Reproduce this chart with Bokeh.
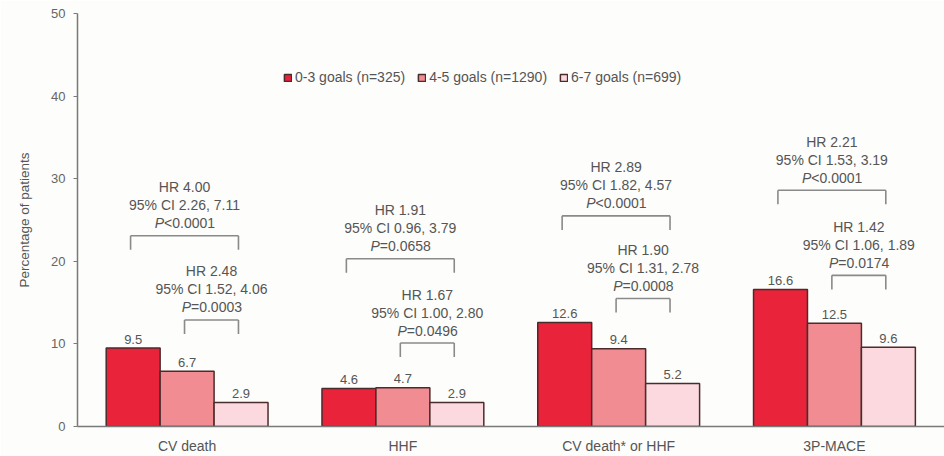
import numpy as np
from bokeh.plotting import figure
from bokeh.models import (ColumnDataSource, Range1d, FixedTicker, Legend, LegendItem)
from bokeh.core.properties import value
from bokeh.embed import file_html
from bokeh.resources import INLINE

# ---------------- data ----------------
categories = ["CV death", "HHF", "CV death* or HHF", "3P-MACE"]
series_names = ["0-3 goals (n=325)", "4-5 goals (n=1290)", "6-7 goals (n=699)"]
goals_0_3 = [9.5, 4.6, 12.6, 16.6]
goals_4_5 = [6.7, 4.7, 9.4, 12.5]
goals_6_7 = [2.9, 2.9, 5.2, 9.6]

# comparisons: 0-3 vs 6-7 (wide bracket) and 4-5 vs 6-7 (narrow bracket)
hr_wide = ["HR 4.00", "HR 1.91", "HR 2.89", "HR 2.21"]
ci_wide = ["95% CI 2.26, 7.11", "95% CI 0.96, 3.79", "95% CI 1.82, 4.57", "95% CI 1.53, 3.19"]
p_wide = ["<0.0001", "=0.0658", "<0.0001", "<0.0001"]
hr_narrow = ["HR 2.48", "HR 1.67", "HR 1.90", "HR 1.42"]
ci_narrow = ["95% CI 1.52, 4.06", "95% CI 1.00, 2.80", "95% CI 1.31, 2.78", "95% CI 1.06, 1.89"]
p_narrow = ["=0.0003", "=0.0496", "=0.0008", "=0.0174"]
# bracket heights (annotation levels, % axis units)
bracket_wide_level = [23.1, 20.3, 25.5, 28.6]
bracket_narrow_level = [12.9, 10.1, 15.5, 18.3]

y_ticks = [0, 10, 20, 30, 40, 50]

# ---------------- style ----------------
colors = ["#e8233a", "#f08c92", "#fbd9df"]
outline = "#4a2c2c"
txt_col = "#555555"
bracket_col = "#8a8a8a"
FONT = "Liberation Sans"
BG = "#fdfdfb"

bw = 0.25
offsets = [-bw, 0.0, bw]
centers = np.arange(len(categories)) + 0.5

p = figure(width=944, height=456, output_backend="svg", toolbar_location=None,
           x_range=Range1d(-0.008, 4.01), y_range=Range1d(0, 50),
           min_border_left=77, min_border_right=0, min_border_top=13, min_border_bottom=28,
           background_fill_color=BG, border_fill_color=BG, outline_line_color=None)
p.grid.visible = False

series = [goals_0_3, goals_4_5, goals_6_7]
renderers = []
for i, vals in enumerate(series):
    src = ColumnDataSource(dict(x=centers + offsets[i], top=vals,
                                lab=[f"{v:.1f}" for v in vals]))
    r = p.vbar(x="x", top="top", width=bw, bottom=0, source=src,
               fill_color=colors[i], line_color=outline, line_width=1.5)
    renderers.append(r)
    p.text(x="x", y="top", text="lab", source=src, text_align="center",
           text_baseline="alphabetic", y_offset=-9,
           text_font=value(FONT), text_font_size="13px", text_color=txt_col)

# brackets
shift = -0.012
leg = 1.7
def bracket(xa, xb, levels, hr, ci, pv):
    xa = np.asarray(xa) + shift
    xb = np.asarray(xb) + shift
    lv = np.asarray(levels)
    src = ColumnDataSource(dict(xa=xa, xb=xb, top=lv, bot=lv - leg,
                                xm=(xa + xb) / 2, hr=hr, ci=ci, pv=pv,
                                pp=["P"] * len(hr)))
    p.segment(x0="xa", y0="top", x1="xb", y1="top", source=src,
              line_color=bracket_col, line_width=1.6)
    p.segment(x0="xa", y0="top", x1="xa", y1="bot", source=src,
              line_color=bracket_col, line_width=1.6)
    p.segment(x0="xb", y0="top", x1="xb", y1="bot", source=src,
              line_color=bracket_col, line_width=1.6)
    common = dict(source=src, text_baseline="alphabetic", text_font=value(FONT),
                  text_font_size="14px", text_color=txt_col)
    p.text(x="xm", y="top", text="hr", text_align="center", y_offset=-48.5, **common)
    p.text(x="xm", y="top", text="ci", text_align="center", y_offset=-30.5, **common)
    p.text(x="xm", y="top", text="pp", text_align="right", x_offset=-20.5,
           y_offset=-12.5, text_font_style="italic", **common)
    p.text(x="xm", y="top", text="pv", text_align="left", x_offset=-20.5,
           y_offset=-12.5, **common)

bracket(centers + offsets[0], centers + offsets[2], bracket_wide_level,
        hr_wide, ci_wide, p_wide)
bracket(centers + offsets[1], centers + offsets[2], bracket_narrow_level,
        hr_narrow, ci_narrow, p_narrow)

# axes
p.xaxis.ticker = FixedTicker(ticks=list(centers))
p.xaxis.major_label_overrides = {float(c): cat for c, cat in zip(centers, categories)}
p.xaxis.major_tick_line_color = None
p.xaxis.major_tick_in = 0
p.xaxis.major_tick_out = 0
p.xaxis.minor_tick_line_color = None
p.xaxis.axis_line_color = "#7a7a7a"
p.xaxis.axis_line_width = 1.5
p.xaxis.major_label_standoff = 11
p.xaxis.major_label_text_font = FONT
p.xaxis.major_label_text_font_size = "14px"
p.xaxis.major_label_text_color = txt_col

p.yaxis.ticker = FixedTicker(ticks=y_ticks)
p.yaxis.minor_tick_line_color = None
p.yaxis.major_tick_in = 0
p.yaxis.major_tick_out = 4
p.yaxis.major_tick_line_color = "#7a7a7a"
p.yaxis.axis_line_color = "#7a7a7a"
p.yaxis.axis_line_width = 1.5
p.yaxis.major_label_standoff = 8
p.yaxis.major_label_text_font = FONT
p.yaxis.major_label_text_font_size = "13px"
p.yaxis.major_label_text_color = "#666666"
p.yaxis.axis_label = "Percentage of patients"
p.yaxis.axis_label_text_font = FONT
p.yaxis.axis_label_text_font_size = "13.5px"
p.yaxis.axis_label_text_font_style = "normal"
p.yaxis.axis_label_text_color = txt_col
p.yaxis.axis_label_standoff = 16

legend = Legend(items=[LegendItem(label=n, renderers=[r]) for n, r in zip(series_names, renderers)],
                orientation="horizontal", location=(206, 341),
                glyph_width=9, glyph_height=9, label_standoff=3, spacing=12,
                padding=0, margin=0, border_line_color=None, background_fill_alpha=0,
                label_text_font=FONT, label_text_font_size="14px",
                label_text_color=txt_col)
p.add_layout(legend, "center")

open("out.html", "w").write(file_html(p, INLINE))
